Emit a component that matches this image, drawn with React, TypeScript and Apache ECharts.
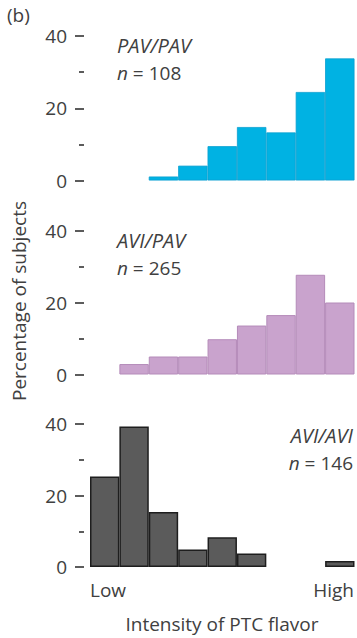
import React, { useEffect, useRef } from "react";
import * as echarts from "echarts";

const bins = ["b1", "b2", "b3", "b4", "b5", "b6", "b7", "b8", "b9"];
const pavPav: (number | string)[] = ["-", "-", 1.1, 4.1, 9.5, 14.8, 13.3, 24.5, 33.8];
const aviPav: (number | string)[] = ["-", 2.9, 5.0, 5.0, 9.8, 13.6, 16.5, 27.7, 20.0];
const aviAvi: (number | string)[] = [25.3, 39.3, 15.4, 4.9, 8.3, 3.8, "-", "-", 1.7];
const yTicks = { min: 0, max: 40, interval: 20 };

const FONT = "Open Sans";
const TXT = "#404040";
const FS = 19;

export default function App() {
  const ref = useRef<HTMLDivElement>(null);
  useEffect(() => {
    if (!ref.current) return;
    const chart = echarts.init(ref.current, null, { renderer: "svg" });
    const grids = [
      { left: 90, width: 264.5, top: 36, height: 144.5 },
      { left: 90, width: 264.5, top: 230.5, height: 144 },
      { left: 90, width: 264.5, top: 424, height: 143 },
    ];
    const mkX = (i: number) => ({
      type: "category",
      gridIndex: i,
      data: bins,
      show: false,
      boundaryGap: true,
    });
    const mkY = (i: number) => ({
      type: "value",
      gridIndex: i,
      min: yTicks.min,
      max: yTicks.max,
      interval: yTicks.interval,
      offset: 6,
      axisLine: { show: false },
      splitLine: { show: false },
      axisTick: { show: true, length: 9, lineStyle: { color: "#333", width: 1.6 } },
      minorTick: { show: true, splitNumber: 2, length: 5, lineStyle: { color: "#333", width: 1.6 } },
      axisLabel: { margin: 17, fontSize: FS, fontFamily: FONT, color: TXT },
    });
    const styles = [
      { color: "#00b2e3", borderColor: "#0a9fd0", borderWidth: 0.8 },
      { color: "#c9a3cd", borderColor: "#b48bb9", borderWidth: 1 },
      { color: "#5b5b5b", borderColor: "#1e1e1e", borderWidth: 1.5 },
    ];
    const datas = [pavPav, aviPav, aviAvi];
    const labelText = (x: number, y: number, name: string, n: string, align: string) => ({
      type: "group",
      children: [
        {
          type: "text",
          x,
          y,
          style: {
            text: name,
            font: `italic 20px "${FONT}"`,
            fill: TXT,
            align,
            verticalAlign: "middle",
          },
        },
        {
          type: "text",
          x,
          y: y + 28,
          style: {
            text: `{i|n} = ${n}`,
            font: `${FS}px "${FONT}"`,
            fill: TXT,
            align,
            verticalAlign: "middle",
            rich: { i: { fontStyle: "italic", fontSize: FS, fontFamily: FONT, fill: TXT } },
          },
        },
      ],
    });
    chart.setOption({
      animation: false,
      grid: grids,
      xAxis: [mkX(0), mkX(1), mkX(2)],
      yAxis: [mkY(0), mkY(1), mkY(2)],
      series: datas.map((d, i) => ({
        type: "bar",
        xAxisIndex: i,
        yAxisIndex: i,
        data: d,
        barWidth: "100%",
        barCategoryGap: "0%",
        itemStyle: styles[i],
        silent: true,
      })),
      graphic: [
        {
          type: "text",
          x: 7,
          y: 15,
          style: { text: "(b)", font: `${FS}px "${FONT}"`, fill: TXT, verticalAlign: "middle" },
        },
        labelText(117, 45, "PAV/PAV", "108", "left"),
        labelText(117, 240, "AVI/PAV", "265", "left"),
        labelText(353, 435, "AVI/AVI", "146", "right"),
        {
          type: "text",
          x: 19,
          y: 301,
          rotation: Math.PI / 2,
          style: {
            text: "Percentage of subjects",
            font: `${FS}px "${FONT}"`,
            fill: TXT,
            align: "center",
            verticalAlign: "middle",
          },
        },
        {
          type: "text",
          x: 90,
          y: 590,
          style: { text: "Low", font: `${FS}px "${FONT}"`, fill: TXT, verticalAlign: "middle" },
        },
        {
          type: "text",
          x: 354,
          y: 590,
          style: { text: "High", font: `${FS}px "${FONT}"`, fill: TXT, align: "right", verticalAlign: "middle" },
        },
        {
          type: "text",
          x: 222,
          y: 624,
          style: {
            text: "Intensity of PTC flavor",
            font: `${FS}px "${FONT}"`,
            fill: TXT,
            align: "center",
            verticalAlign: "middle",
          },
        },
      ],
    });
    return () => chart.dispose();
  }, []);
  return (
    <div
      ref={ref}
      style={{ position: "absolute", left: 0, top: 0, width: 357, height: 638 }}
    />
  );
}
